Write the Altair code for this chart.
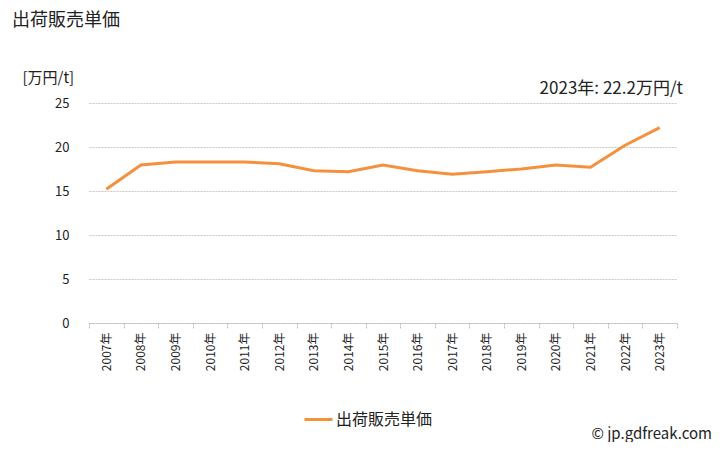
import altair as alt
import pandas as pd

years = ["2007年", "2008年", "2009年", "2010年", "2011年", "2012年", "2013年", "2014年", "2015年",
         "2016年", "2017年", "2018年", "2019年", "2020年", "2021年", "2022年", "2023年"]
values = [15.2, 17.95, 18.3, 18.3, 18.3, 18.1, 17.3, 17.2, 17.95,
          17.3, 16.9, 17.2, 17.5, 17.95, 17.7, 20.2, 22.2]
series = "出荷販売単価"

df = pd.DataFrame({"year": years, "value": values, "series": [series] * len(years)})

FONT = "Noto Sans CJK JP"
W, H = 588, 220

base = alt.Chart(df)

line = base.mark_line(strokeWidth=3).encode(
    x=alt.X("year:N", sort=years, title=None,
            scale=alt.Scale(paddingInner=0, paddingOuter=0),
            axis=alt.Axis(labelAngle=-90, labelFontSize=12, labelFont=FONT, labelColor="#222",
                          tickBand="extent", domainColor="#bbb", tickColor="#bbb",
                          domainDash=[2, 1], tickDash=[2, 1], tickSize=5,
                          labelPadding=4, grid=False)),
    y=alt.Y("value:Q", scale=alt.Scale(domain=[0, 25]), title="[万円/t]",
            axis=alt.Axis(values=[0, 5, 10, 15, 20, 25], labelFontSize=13, labelFont=FONT,
                          labelColor="#222", domain=False, ticks=False, labelPadding=20,
                          gridColor="#c8c8c8", gridDash=[2, 1],
                          titleAngle=0, titleAlign="left", titleBaseline="middle",
                          titleX=-67, titleY=-26, titleFont=FONT, titleFontSize=15,
                          titleFontWeight="normal", titleColor="#222")),
    color=alt.Color("series:N", scale=alt.Scale(range=["#f5913c"]), title=None,
                    legend=alt.Legend(orient="none", legendX=214, legendY=301,
                                      symbolType="stroke", symbolStrokeWidth=3, symbolSize=784,
                                      labelFont=FONT, labelFontSize=16, labelColor="#222",
                                      labelOffset=2)),
)

title = alt.Chart(pd.DataFrame({"t": [series]})).mark_text(
    align="left", baseline="middle", font=FONT, fontSize=18, color="#222"
).encode(text="t:N", x=alt.value(-77), y=alt.value(-82))

annot = alt.Chart(pd.DataFrame({"t": ["2023年: 22.2万円/t"]})).mark_text(
    align="right", baseline="middle", font=FONT, fontSize=17, color="#222"
).encode(text="t:N", x=alt.value(594), y=alt.value(-14))

credit = alt.Chart(pd.DataFrame({"t": ["© jp.gdfreak.com"]})).mark_text(
    align="right", baseline="middle", font=FONT, fontSize=15, color="#222"
).encode(text="t:N", x=alt.value(623), y=alt.value(331))

chart = alt.layer(line, title, annot, credit).properties(
    width=W, height=H,
    autosize=alt.AutoSizeParams(type="none"),
    padding={"left": 81, "top": 95, "right": 43, "bottom": 119},
).configure_view(stroke=None)

chart.save("out.html", embed_options={"renderer": "svg", "actions": False})
